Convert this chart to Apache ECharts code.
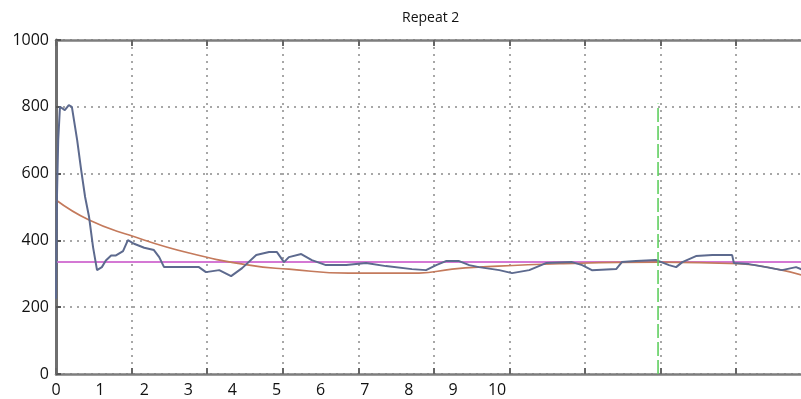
<!DOCTYPE html>
<html>
<head>
<meta charset="utf-8">
<script src="https://cdn.jsdelivr.net/npm/echarts@6/dist/echarts.min.js"></script>
<style>
html,body{margin:0;padding:0;background:#fff;}
#main{width:801px;height:399px;}
</style>
</head>
<body>
<div id="main"></div>
<script>
//数据：x 为下方刻度单位 (0-10)，y 为数值
var signalX = [0, 0.02, 0.05, 0.09, 0.20, 0.29, 0.36, 0.48, 0.57, 0.66, 0.75, 0.84, 0.93, 1.04, 1.13, 1.25, 1.36, 1.52, 1.63, 1.77,
	2.00, 2.22, 2.34, 2.45, 2.86, 3.24, 3.40, 3.70, 3.97, 4.22, 4.54, 4.83, 5.01, 5.17, 5.28, 5.56, 5.80, 6.12, 6.58, 7.03,
	7.48, 8.07, 8.39, 8.62, 8.84, 9.14, 9.37, 9.59, 10.05, 10.34, 10.73, 11.11, 11.70, 11.93, 12.15, 12.70, 12.83, 13.15,
	13.61, 13.90, 14.06, 14.20, 14.51, 14.88, 15.33, 15.37, 15.71, 16.10, 16.46, 16.78, 17.05];
var signalY = [225, 520, 700, 800, 790, 805, 800, 700, 611, 530, 470, 380, 311, 320, 340, 355, 355, 368, 401, 390,
	378, 371, 350, 320, 320, 320, 305, 311, 293, 317, 356, 365, 365, 335, 350, 359, 341, 326, 326, 332,
	323, 314, 311, 326, 338, 338, 326, 320, 311, 302, 311, 332, 335, 326, 311, 314, 335, 338,
	341, 326, 320, 335, 353, 356, 356, 332, 329, 320, 311, 320, 305];
var fitX = [0, 0.75, 1.66, 3.02, 4.38, 5.28, 6.64, 8.23, 8.98, 9.59, 11.41, 13.67, 15.49, 16.46, 17.05];
var fitY = [521, 461, 416, 362, 326, 314, 302, 302, 314, 320, 330, 335, 330, 311, 290];
var meanX = [0, 17.05];
var meanY = [335, 335];
var markerX = [13.65, 13.65];
var markerY = [0, 810];
var xLabels = [0, 1, 2, 3, 4, 5, 6, 7, 8, 9, 10];
var yTicks = [0, 200, 400, 600, 800, 1000];

function pairs(xs, ys) {
	return xs.map(function(x, i) {
		return [x, ys[i]];
	});
}

var myChart = echarts.init(document.getElementById('main'));
var gridDot = {
	show: true,
	lineStyle: {
		color: '#8a8a8a',
		width: 1.5,
		type: [2, 5]
	}
};
var font = '"Open Sans", "Liberation Sans", sans-serif';

var option = {
	animation: false,
	title: {
		text: 'Repeat 2',
		left: 397,
		top: 6,
		textStyle: {
			fontSize: 14,
			fontWeight: 'normal',
			fontFamily: font,
			color: '#111'
		}
	},
	grid: {
		left: 56,
		width: 752,
		top: 40,
		bottom: 25,
		outerBoundsMode: 'none'
	},
	xAxis: [{
		//网格线
		type: 'value',
		position: 'bottom',
		min: 0,
		max: 9.95,
		interval: 1,
		axisLine: {
			show: true,
			lineStyle: {
				color: '#7d7d7d',
				width: 2.5
			}
		},
		axisTick: {
			show: true,
			inside: true,
			length: 6,
			lineStyle: {
				color: '#666',
				width: 2
			}
		},
		axisLabel: {
			show: false
		},
		splitLine: gridDot
	}, {
		//刻度文字
		type: 'value',
		position: 'bottom',
		min: 0,
		max: 17.05,
		interval: 1,
		axisLine: {
			show: false
		},
		axisTick: {
			show: false
		},
		splitLine: {
			show: false
		},
		axisLabel: {
			margin: 8,
			fontSize: 16,
			fontFamily: font,
			color: '#111',
			showMaxLabel: false,
			formatter: function(v) {
				return xLabels.indexOf(v) >= 0 ? String(v) : '';
			}
		}
	}, {
		//上边框
		type: 'value',
		position: 'top',
		min: 0,
		max: 9.95,
		interval: 1,
		axisLine: {
			show: true,
			lineStyle: {
				color: '#7d7d7d',
				width: 2.5
			}
		},
		axisTick: {
			show: true,
			inside: true,
			length: 6,
			lineStyle: {
				color: '#666',
				width: 2
			}
		},
		axisLabel: {
			show: false
		},
		splitLine: {
			show: false
		}
	}],
	yAxis: {
		type: 'value',
		min: yTicks[0],
		max: yTicks[yTicks.length - 1],
		interval: 200,
		axisLine: {
			show: true,
			lineStyle: {
				color: '#6f6f6f',
				width: 3
			}
		},
		axisTick: {
			show: true,
			inside: true,
			length: 5,
			lineStyle: {
				color: '#555',
				width: 2
			}
		},
		axisLabel: {
			margin: 7,
			fontSize: 16,
			fontFamily: font,
			color: '#111',
			formatter: function(v) {
				return String(v);
			}
		},
		splitLine: gridDot
	},
	series: [{
		name: 'mean',
		type: 'line',
		xAxisIndex: 1,
		data: pairs(meanX, meanY),
		symbol: 'none',
		lineStyle: {
			color: '#d478d4',
			width: 2
		}
	}, {
		name: 'fit',
		type: 'line',
		xAxisIndex: 1,
		data: pairs(fitX, fitY),
		smooth: true,
		symbol: 'none',
		lineStyle: {
			color: '#c47a5c',
			width: 1.6
		}
	}, {
		name: 'signal',
		type: 'line',
		xAxisIndex: 1,
		data: pairs(signalX, signalY),
		symbol: 'none',
		lineStyle: {
			color: '#5d6a8e',
			width: 2
		}
	}, {
		name: 'marker',
		type: 'line',
		xAxisIndex: 1,
		data: pairs(markerX, markerY),
		symbol: 'none',
		lineStyle: {
			color: '#5fcf5f',
			width: 1.6,
			type: [14, 4]
		}
	}]
};
myChart.setOption(option);
</script>
</body>
</html>
